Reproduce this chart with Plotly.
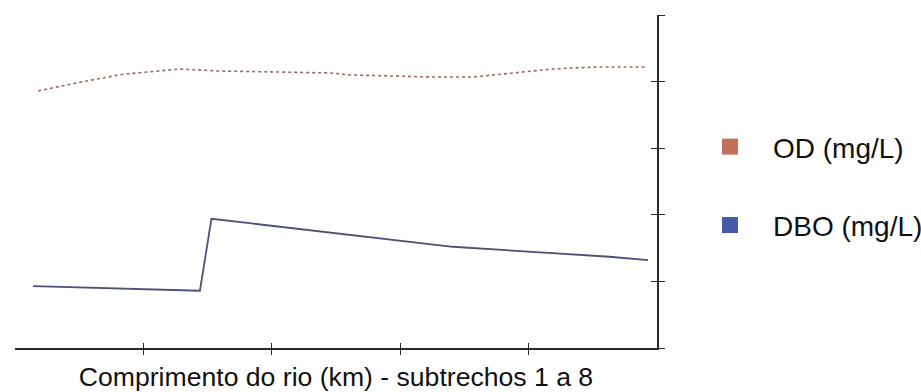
import plotly.graph_objects as go

# Posição ao longo do rio (unidades do eixo horizontal) e concentrações
dist_od = [0.18, 0.53, 0.84, 1.29, 1.57, 2.09, 2.45, 2.61, 3.23, 3.57, 3.91, 4.19, 4.53, 4.91]
od_mg_l = [3.86, 4.00, 4.11, 4.19, 4.16, 4.14, 4.13, 4.10, 4.07, 4.07, 4.14, 4.19, 4.22, 4.22]

dist_dbo = [0.14, 1.44, 1.53, 2.45, 3.41, 4.63, 4.93]
dbo_mg_l = [0.93, 0.86, 1.94, 1.73, 1.52, 1.37, 1.32]

x_ticks = [1, 2, 3, 4]
y_ticks = [0, 1, 2, 3, 4, 5]
series_names = ["OD (mg/L)", "DBO (mg/L)"]

od_line = "#a06660"
dbo_line = "#4f5079"
od_key = "#c2705a"
dbo_key = "#4a5aa8"
axis_color = "#2a2a2a"
text_color = "#111111"
font_family = "Liberation Sans, Arial, sans-serif"

fig = go.Figure()

fig.add_trace(go.Scatter(
    x=dist_od, y=od_mg_l, mode="lines", showlegend=False,
    line=dict(color=od_line, width=1.6, dash="dot"),
))
fig.add_trace(go.Scatter(
    x=dist_dbo, y=dbo_mg_l, mode="lines", showlegend=False,
    line=dict(color=dbo_line, width=1.8),
))

# Legend entries drawn as square keys (on the overlay axes so those axes render)
for name, color, grp in [(series_names[0], od_key, "a"), (series_names[1], dbo_key, "b")]:
    fig.add_trace(go.Scatter(
        x=[None], y=[None], mode="markers", name=name, legendgroup=grp,
        marker=dict(symbol="square", size=18, color=color),
        xaxis="x2", yaxis="y2",
    ))

fig.update_layout(
    width=921, height=392,
    margin=dict(l=15, r=264, t=15, b=44, autoexpand=False),
    paper_bgcolor="white", plot_bgcolor="white",
    font=dict(family=font_family, color=text_color, size=26),
    xaxis=dict(
        range=[0, 5], showgrid=False, zeroline=False,
        showline=True, linecolor=axis_color, linewidth=1.5,
        tickmode="array", tickvals=x_ticks, showticklabels=False,
        ticks="outside", ticklen=5, tickwidth=1.3, tickcolor=axis_color,
        title=dict(text="Comprimento do rio (km) - subtrechos 1 a 8",
                   font=dict(size=26.6, color=text_color), standoff=19),
    ),
    yaxis=dict(
        range=[0, 5], side="right", showgrid=False, zeroline=False,
        showline=True, linecolor=axis_color, linewidth=1.5,
        tickmode="array", tickvals=y_ticks, showticklabels=False,
        ticks="outside", ticklen=6, tickwidth=1.3, tickcolor=axis_color,
    ),
    xaxis2=dict(
        range=[0, 5], overlaying="x", side="bottom", anchor="y2",
        showgrid=False, zeroline=False, showline=False,
        tickmode="array", tickvals=x_ticks, showticklabels=False,
        ticks="inside", ticklen=5, tickwidth=1.3, tickcolor=axis_color,
    ),
    yaxis2=dict(
        range=[0, 5], overlaying="y", side="right", anchor="x2",
        showgrid=False, zeroline=False, showline=False,
        tickmode="array", tickvals=y_ticks, showticklabels=False,
        ticks="inside", ticklen=6, tickwidth=1.3, tickcolor=axis_color,
    ),
    legend=dict(
        x=1.0467, xanchor="left", y=0.679, yanchor="top",
        font=dict(size=28, color=text_color),
        bgcolor="rgba(0,0,0,0)", tracegroupgap=39, itemwidth=76,
    ),
)

fig.write_html("out.html")
